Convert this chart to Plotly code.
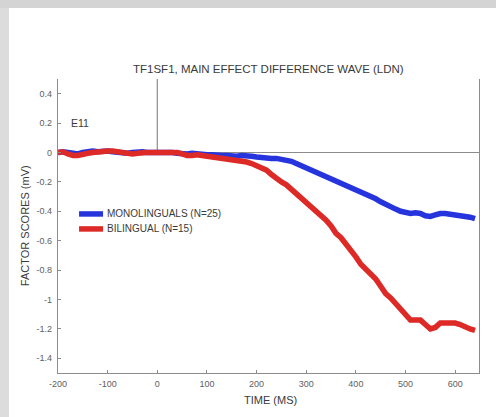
import plotly.graph_objects as go

time_ms = list(range(-200, 641, 10))

monolinguals = [
    0.00, 0.005, 0.0, -0.005, -0.01, 0.0, 0.005, 0.01, 0.005, 0.01,
    0.01, 0.005, 0.0, 0.0, -0.005, 0.0, 0.005, 0.005, 0.0, 0.0,
    0.0, 0.005, 0.0, 0.0, -0.005, -0.01, -0.01, -0.005, -0.01, -0.01,
    -0.015, -0.015, -0.02, -0.02, -0.02, -0.025, -0.025, -0.02, -0.02, -0.025,
    -0.03, -0.035, -0.035, -0.04, -0.04, -0.045, -0.05, -0.06, -0.075, -0.09,
    -0.10, -0.12, -0.135, -0.15, -0.165, -0.18, -0.19, -0.205, -0.22, -0.24,
    -0.255, -0.27, -0.285, -0.30, -0.315, -0.335, -0.355, -0.37, -0.385, -0.40,
    -0.41, -0.415, -0.41, -0.415, -0.43, -0.435, -0.425, -0.415, -0.415, -0.42,
    -0.42, -0.425, -0.43, -0.44, -0.45,
]

bilingual = [
    0.0, 0.005, -0.01, -0.02, -0.02, -0.01, -0.005, 0.0, 0.005, 0.01,
    0.01, 0.01, 0.005, -0.005, -0.01, -0.01, -0.005, 0.0, 0.0, 0.0,
    0.0, 0.0, 0.005, 0.0, 0.0, -0.01, -0.02, -0.02, -0.015, -0.02,
    -0.025, -0.03, -0.03, -0.035, -0.04, -0.045, -0.05, -0.06, -0.065, -0.075,
    -0.09, -0.10, -0.12, -0.15, -0.18, -0.20, -0.22, -0.25, -0.28, -0.31,
    -0.33, -0.37, -0.40, -0.43, -0.46, -0.50, -0.55, -0.58, -0.62, -0.67,
    -0.71, -0.76, -0.79, -0.82, -0.86, -0.91, -0.96, -0.99, -1.03, -1.07,
    -1.11, -1.14, -1.14, -1.14, -1.17, -1.20, -1.19, -1.16, -1.16, -1.16,
    -1.16, -1.17, -1.19, -1.20, -1.21,
]

series_names = ["MONOLINGUALS (N=25)", "BILINGUAL (N=15)"]
series_colors = ["rgb(38,52,222)", "rgb(222,42,38)"]

x_ticks = [-200, -100, 0, 100, 200, 300, 400, 500, 600]
x_tick_text = ["-200", "-100", "0", "100", "200", "300", "400", "500", "600"]
y_ticks = [0.4, 0.2, 0, -0.2, -0.4, -0.6, -0.8, -1, -1.2, -1.4]
y_tick_text = ["0.4", "0.2", "0", "-0.2", "-0.4", "-0.6", "-0.8", "-1", "-1.2", "-1.4"]

X_MIN, X_MAX = -200, 648
Y_MIN, Y_MAX = -1.5, 0.5

FONT = "Liberation Sans, Arial, sans-serif"
AXIS_GRAY = "#8c8c8c"
TEXT_DARK = "#3a3a3a"
TICK_TEXT = "#606060"

fig = go.Figure()
for name, values, color in zip(series_names, [monolinguals, bilingual], series_colors):
    fig.add_trace(go.Scatter(
        x=time_ms, y=values, mode="lines", name=name,
        line=dict(color=color, width=5.5), showlegend=False,
    ))

shapes = [
    dict(type="line", xref="x", yref="y", x0=X_MIN, x1=X_MAX, y0=0, y1=0,
         line=dict(color=AXIS_GRAY, width=1.2), layer="below"),
    dict(type="line", xref="x", yref="y", x0=0, x1=0, y0=0, y1=Y_MAX,
         line=dict(color=AXIS_GRAY, width=1.2), layer="below"),
    # left frame strip
    dict(type="rect", xref="paper", yref="paper", x0=-0.14, x1=-0.1164, y0=-0.2, y1=1.3,
         fillcolor="#dcdcdc", line=dict(width=0), layer="below"),
    # top frame strip
    dict(type="rect", xref="paper", yref="paper", x0=-0.14, x1=1.05, y0=1.2415, y1=1.3,
         fillcolor="#d4d4d4", line=dict(width=0), layer="below"),
]

annotations = [
    dict(text="TF1SF1, MAIN EFFECT DIFFERENCE WAVE (LDN)", xref="paper", yref="paper",
         x=0.499, y=1.034, xanchor="center", yanchor="middle", showarrow=False,
         font=dict(family=FONT, size=11.5, color=TEXT_DARK)),
    dict(text="E11", xref="x", yref="y", x=-178, y=0.2, xanchor="left", yanchor="middle",
         showarrow=False, font=dict(family=FONT, size=10.5, color=TEXT_DARK)),
    dict(text="FACTOR SCORES (mV)", xref="paper", yref="paper", x=-0.078, y=0.5,
         xanchor="center", yanchor="middle", textangle=-90, showarrow=False,
         font=dict(family=FONT, size=11, color=TEXT_DARK)),
    dict(text="TIME (MS)", xref="paper", yref="paper", x=0.504, y=-0.092,
         xanchor="center", yanchor="middle", showarrow=False,
         font=dict(family=FONT, size=11, color=TEXT_DARK)),
]

# custom legend (row spacing tighter than Plotly's built-in legend)
legend_rows_y = [0.541, 0.490]
for name, color, ly in zip(series_names, series_colors, legend_rows_y):
    shapes.append(dict(type="line", xref="paper", yref="paper", x0=0.050, x1=0.107,
                       y0=ly, y1=ly, line=dict(color=color, width=5.5)))
    annotations.append(dict(text=name, xref="paper", yref="paper", x=0.112, y=ly,
                            xanchor="left", yanchor="middle", showarrow=False,
                            font=dict(family=FONT, size=10, color=TEXT_DARK)))

fig.update_layout(
    width=496, height=417,
    margin=dict(l=58, r=17, t=79, b=44),
    paper_bgcolor="white", plot_bgcolor="white",
    font=dict(family=FONT, size=8.5, color=TICK_TEXT),
    showlegend=False,
    shapes=shapes,
    annotations=annotations,
)
fig.update_xaxes(
    range=[X_MIN, X_MAX], tickvals=x_ticks, ticktext=x_tick_text, ticks="inside", ticklen=3,
    tickcolor=AXIS_GRAY, showline=True, linecolor=AXIS_GRAY, linewidth=1.2, mirror=False,
    showgrid=False, zeroline=False, tickfont=dict(size=9, color=TICK_TEXT), ticklabelstandoff=2,
)
fig.update_yaxes(
    range=[Y_MIN, Y_MAX], tickvals=y_ticks, ticktext=y_tick_text, ticks="inside", ticklen=3,
    tickcolor=AXIS_GRAY, showline=True, linecolor=AXIS_GRAY, linewidth=1.2, mirror=True,
    showgrid=False, zeroline=False, tickfont=dict(size=9, color=TICK_TEXT), ticklabelstandoff=3,
)

fig.write_html("out.html", config={"displayModeBar": False},
               post_script="document.body.style.margin='0px';")
